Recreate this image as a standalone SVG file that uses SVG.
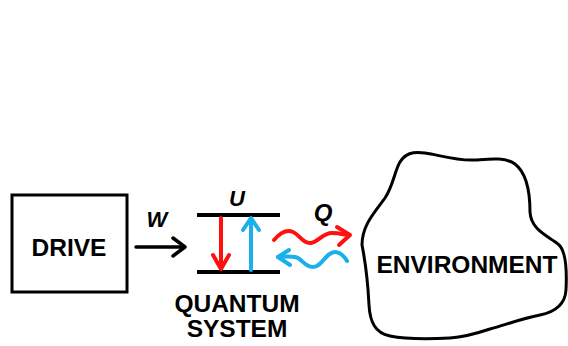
<svg xmlns="http://www.w3.org/2000/svg" width="568" height="346" viewBox="0 0 568 346">
<style>
.t{font-family:"Liberation Sans",Arial,sans-serif;font-weight:bold;fill:#000}
.i{font-style:italic}
.k{fill:none;stroke:#000;stroke-width:3}
.lvl{stroke:#000;stroke-width:4;stroke-linecap:butt}
.r{fill:none;stroke:#ff1010;stroke-width:4;stroke-linecap:round;stroke-linejoin:round}
.b{fill:none;stroke:#1ab0ea;stroke-width:4;stroke-linecap:round;stroke-linejoin:round}
.a{fill:none;stroke:#000;stroke-width:3.5;stroke-linecap:round;stroke-linejoin:round}
</style>
<rect width="568" height="346" fill="#fff"/>
<g id="drive">
<rect class="k" x="12" y="195" width="115" height="97"/>
<text class="t" x="69" y="256" font-size="24.5" text-anchor="middle">DRIVE</text>
</g>
<g id="quantum-system">
<line class="lvl" x1="197" y1="215" x2="280" y2="215"/>
<line class="lvl" x1="197" y1="272" x2="280" y2="272"/>
<text class="t i" x="237" y="206" font-size="22" text-anchor="middle">U</text>
<text class="t" x="237" y="312" font-size="24.5" text-anchor="middle">QUANTUM</text>
<text class="t" x="237" y="337" font-size="24.5" text-anchor="middle">SYSTEM</text>
</g>
<g id="environment">
<path class="k" d="M362,245 C362,225 375,212 385,198 C393,186 395,170 400,162 C405,154 412,151 425,153 C440,155 455,161 475,160 C490,159 505,157 515,164 C528,174 530,195 530,212 C531,230 548,236 558,244 C566,250 567,270 566,290 C565,305 555,312 540,315 C520,319 505,325 490,329 C475,334 465,337 450,338 C430,339 405,339 390,336 C375,333 370,322 369,305 C368,285 366,265 362,245 Z"/>
<text class="t" x="467" y="273" font-size="24.5" text-anchor="middle">ENVIRONMENT</text>
</g>
<g id="connectors">
<line class="a" x1="136" y1="247" x2="184" y2="247"/>
<polyline class="a" points="173,238 185,247 173,256"/>
<text class="t i" x="157" y="227" font-size="22" text-anchor="middle">W</text>
<line class="r" x1="221" y1="218" x2="221" y2="268"/>
<polyline class="r" points="213,255 221,269 229,255"/>
<line class="b" x1="251" y1="270" x2="251" y2="219"/>
<polyline class="b" points="243,230 251,218 259,230"/>
<path class="r" d="M274,240 C280,233 286,229 293,232 C300,235 302,243 310,243 C318,243 322,233 332,233 C340,233 345,235 349,235"/>
<polyline class="r" points="337,227 350,235 339,245"/>
<text class="t i" x="323" y="221" font-size="24" text-anchor="middle">Q</text>
<path class="b" d="M347,261 C344,256 340,252 335,252 C326,252 322,267 313,267 C304,267 302,258 295,257 C288,256 282,257 278,257"/>
<polyline class="b" points="289,250 278,257 290,265"/>
</g>
</svg>
